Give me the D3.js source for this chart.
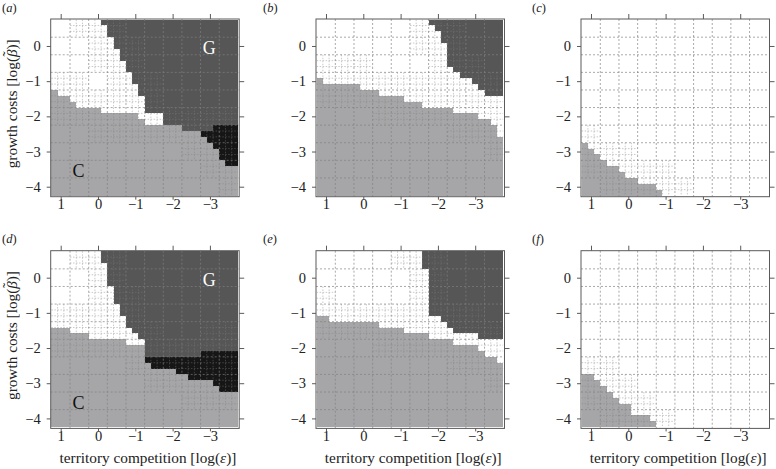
<!DOCTYPE html>
<html>
<head>
<meta charset="utf-8">
<script src="https://cdn.jsdelivr.net/npm/d3@7"></script>
<style>
  html, body { margin: 0; padding: 0; background: #fff; }
  svg { display: block; }
</style>
</head>
<body>
<div id="chart"></div>
<script>
// axis ticks
const xTicks = [1, 0, -1, -2, -3];
const yTicks = [0, -1, -2, -3, -4];

// coarse (0.5) grid lines, drawn dotted
const coarseX = [0.75, 0.25, -0.25, -0.75, -1.25, -1.75, -2.25, -2.75, -3.25];
const coarseY = [0.25, -0.25, -0.75, -1.25, -1.75, -2.25, -2.75, -3.25, -3.75];

// fine grid: 30 columns from log(eps)=1.25 down to -3.75, 30 rows from 0.75 down to -4.25 (step 1/6)
// per column: first row below G, first row of the black region, first row of C
const gBottomA  = [0,0,0,0,0,0,0,0,1,3,5,7,9,11,13,16,16,16,18,18,18,19,19,19,19,19,18,18,18,18];
const blackTopA = [12,13,13,14,15,15,15,15,16,16,16,16,16,16,17,18,18,18,18,18,18,19,19,19,19,19,18,18,18,18];
const greyTopA  = [12,13,13,14,15,15,15,15,16,16,16,16,16,16,17,18,18,18,18,18,18,19,19,19,20,21,22,24,25,25];

const gBottomB  = [0,0,0,0,0,0,0,0,0,0,0,0,0,0,0,0,0,0,1,2,4,8,9,10,10,11,12,13,13,13];
const greyTopB  = [10,11,11,11,11,11,11,12,12,12,13,13,13,13,14,14,14,15,15,15,15,15,16,16,16,16,17,17,18,20];

const greyTopC  = [21,22,23,24,25,25,26,27,27,28,28,28,29,30,30,30,30,30,30,30,30,30,30,30,30,30,30,30,30,30];

const gBottomD  = [0,0,0,0,0,0,0,0,2,6,9,11,13,14,15,18,18,18,18,18,18,18,18,18,17,17,17,17,17,17];
const blackTopD = [13,13,13,14,14,14,15,15,15,15,15,15,16,16,16,18,18,18,18,18,18,18,18,18,17,17,17,17,17,17];
const greyTopD  = [13,13,13,14,14,14,15,15,15,15,15,15,16,16,16,19,20,20,20,20,21,21,22,22,22,22,23,24,24,24];

const gBottomE  = [0,0,0,0,0,0,0,0,0,0,0,0,0,0,0,0,0,3,11,11,12,13,14,14,14,14,15,15,15,15];
const greyTopE  = [11,11,12,12,12,12,12,12,12,12,13,13,13,13,14,14,14,14,15,15,15,15,16,16,16,16,17,18,18,19];

const greyTopF  = [21,21,22,23,24,25,26,26,28,28,28,29,30,30,30,30,30,30,30,30,30,30,30,30,30,30,30,30,30,30];

const panels = [
  { id: "a", col: 0, row: 0, gBottom: gBottomA, blackTop: blackTopA, greyTop: greyTopA, letters: true },
  { id: "b", col: 1, row: 0, gBottom: gBottomB, blackTop: null, greyTop: greyTopB },
  { id: "c", col: 2, row: 0, gBottom: null, blackTop: null, greyTop: greyTopC },
  { id: "d", col: 0, row: 1, gBottom: gBottomD, blackTop: blackTopD, greyTop: greyTopD, letters: true },
  { id: "e", col: 1, row: 1, gBottom: gBottomE, blackTop: null, greyTop: greyTopE },
  { id: "f", col: 2, row: 1, gBottom: null, blackTop: null, greyTop: greyTopF }
];

const nFine = 30, step = 1 / 6, xStart = 1.25, yStart = 0.75;
const colors = { G: "#565656", W: "#ffffff", K: "#161616", C: "#a6a6a8" };

const width = 776, height = 469;
const panelW = 188.5, panelH = 177.7;
const colLeft = [50.7, 316, 581];
const rowTop = [19, 250.7];
const labelLeft = [2, 263, 532];
const serif = "Liberation Serif, DejaVu Serif, serif";

const svg = d3.select("#chart")
  .append("svg")
  .attr("width", width)
  .attr("height", height)
  .style("font-family", serif);

function stateAt(p, i, j) {
  const g = p.gBottom ? p.gBottom[i] : 0;
  const k = p.blackTop ? p.blackTop[i] : p.greyTop[i];
  const c = p.greyTop[i];
  if (j < g) return "G";
  if (j < k) return "W";
  if (j < c) return "K";
  return "C";
}

panels.forEach(p => {
  const left = colLeft[p.col], top = rowTop[p.row];
  const g = svg.append("g").attr("transform", `translate(${left},${top})`);

  const x = d3.scaleLinear().domain([1.268, -3.785]).range([0, panelW]);
  const y = d3.scaleLinear().domain([0.767, -4.284]).range([0, panelH]);

  g.append("rect")
    .attr("width", panelW).attr("height", panelH)
    .attr("fill", "#fff");

  // one rect per column and region
  const segs = [];
  for (let i = 0; i < nFine; i++) {
    const gb = p.gBottom ? p.gBottom[i] : 0;
    const kt = p.blackTop ? p.blackTop[i] : p.greyTop[i];
    const ct = p.greyTop[i];
    const bounds = [0, gb, kt, ct, nFine];
    ["G", "W", "K", "C"].forEach((s, k) => {
      if (bounds[k + 1] > bounds[k] && s !== "W") {
        segs.push({ i: i, j0: bounds[k], j1: bounds[k + 1], s: s });
      }
    });
  }

  g.append("g").selectAll("rect")
    .data(segs)
    .enter().append("rect")
    .attr("x", d => x(xStart - d.i * step))
    .attr("width", d => x(xStart - (d.i + 1) * step) - x(xStart - d.i * step))
    .attr("y", d => y(yStart - d.j0 * step))
    .attr("height", d => y(yStart - d.j1 * step) - y(yStart - d.j0 * step))
    .attr("fill", d => colors[d.s])
    .attr("shape-rendering", "crispEdges");

  // refined coarse cells: those near a region boundary get the fine dotted grid
  const refined = [];
  for (let bi = 0; bi < 10; bi++) {
    for (let bj = 0; bj < 10; bj++) {
      const seen = new Set();
      [[0, 0], [1, 0], [-1, 0], [0, 1], [0, -1]].forEach(([di, dj]) => {
        const ci = bi + di, cj = bj + dj;
        if (ci < 0 || cj < 0 || ci > 9 || cj > 9) return;
        for (let a = 0; a < 3; a++)
          for (let b = 0; b < 3; b++)
            seen.add(stateAt(p, ci * 3 + a, cj * 3 + b));
      });
      if (seen.size > 1) refined.push({ bi: bi, bj: bj });
    }
  }

  const fineLines = [];
  refined.forEach(r => {
    [1, 2].forEach(k => {
      fineLines.push({
        x1: xStart - (r.bi * 3 + k) * step, x2: xStart - (r.bi * 3 + k) * step,
        y1: yStart - r.bj * 3 * step, y2: yStart - (r.bj * 3 + 3) * step
      });
      fineLines.push({
        x1: xStart - r.bi * 3 * step, x2: xStart - (r.bi * 3 + 3) * step,
        y1: yStart - (r.bj * 3 + k) * step, y2: yStart - (r.bj * 3 + k) * step
      });
    });
  });

  g.append("g").selectAll("line")
    .data(fineLines)
    .enter().append("line")
    .attr("x1", d => x(d.x1)).attr("x2", d => x(d.x2))
    .attr("y1", d => y(d.y1)).attr("y2", d => y(d.y2))
    .attr("stroke", "#808080")
    .attr("stroke-opacity", 0.6)
    .attr("stroke-width", 0.7)
    .attr("stroke-dasharray", "1.5 1.5");

  // coarse dotted grid
  g.append("g").selectAll("line")
    .data(coarseX)
    .enter().append("line")
    .attr("x1", d => x(d)).attr("x2", d => x(d))
    .attr("y1", 0).attr("y2", panelH)
    .attr("stroke", "#808080")
    .attr("stroke-opacity", 0.75)
    .attr("stroke-width", 0.9)
    .attr("stroke-dasharray", "2 2");

  g.append("g").selectAll("line")
    .data(coarseY)
    .enter().append("line")
    .attr("x1", 0).attr("x2", panelW)
    .attr("y1", d => y(d)).attr("y2", d => y(d))
    .attr("stroke", "#808080")
    .attr("stroke-opacity", 0.75)
    .attr("stroke-width", 0.9)
    .attr("stroke-dasharray", "2 2");

  // region letters
  if (p.letters) {
    g.append("text")
      .attr("x", x(-2.98)).attr("y", y(-0.05) + 6.5)
      .attr("text-anchor", "middle")
      .attr("font-size", 18)
      .attr("fill", "#fff")
      .text("G");
    g.append("text")
      .attr("x", x(0.52)).attr("y", y(-3.55) + 6.5)
      .attr("text-anchor", "middle")
      .attr("font-size", 18)
      .attr("fill", "#111")
      .text("C");
  }

  // frame
  g.append("rect")
    .attr("width", panelW).attr("height", panelH)
    .attr("fill", "none")
    .attr("stroke", "#5a5a5a")
    .attr("stroke-width", 1);

  const fmt = d3.format("d");
  const styleAxis = sel => {
    sel.select(".domain").remove();
    sel.selectAll(".tick line").attr("stroke", "#5a5a5a");
    sel.attr("font-family", serif).attr("font-size", 14.5);
    sel.selectAll("text").attr("fill", "#222");
  };

  g.append("g")
    .attr("transform", `translate(0,${panelH})`)
    .call(d3.axisBottom(x).tickValues(xTicks).tickSize(3).tickFormat(fmt))
    .call(styleAxis)
    .selectAll("text").attr("dy", null).attr("y", 12.5);

  g.append("g")
    .call(d3.axisTop(x).tickValues(xTicks).tickSize(5).tickFormat(""))
    .call(styleAxis);

  g.append("g")
    .call(d3.axisLeft(y).tickValues(yTicks).tickSize(4).tickPadding(6).tickFormat(fmt))
    .call(styleAxis);

  g.append("g")
    .attr("transform", `translate(${panelW},0)`)
    .call(d3.axisRight(y).tickValues(yTicks).tickSize(5).tickFormat(""))
    .call(styleAxis);

  // panel label
  const lab = svg.append("text")
    .attr("x", labelLeft[p.col])
    .attr("y", top - 7.5)
    .attr("font-size", 12.5)
    .attr("fill", "#222");
  lab.append("tspan").text("(");
  lab.append("tspan").attr("font-style", "italic").text(p.id);
  lab.append("tspan").text(")");

  // axis titles
  if (p.col === 0) {
    const t = svg.append("text")
      .attr("transform", `translate(17,${top + panelH / 2 - 4}) rotate(-90)`)
      .attr("text-anchor", "middle")
      .attr("font-size", 15.3)
      .attr("fill", "#222");
    t.append("tspan").text("growth costs [log(");
    t.append("tspan").attr("font-style", "italic").text("\u03B2");
    t.append("tspan").attr("dx", -7).attr("dy", -4).text("\u02DC");
    t.append("tspan").attr("dx", 1.7).attr("dy", 4).text(")]");
  }
  if (p.row === 1) {
    const t = svg.append("text")
      .attr("x", left + panelW / 2 + 3)
      .attr("y", 463)
      .attr("text-anchor", "middle")
      .attr("font-size", 15.3)
      .attr("fill", "#222");
    t.append("tspan").text("territory competition [log(");
    t.append("tspan").attr("font-style", "italic").text("\u03B5");
    t.append("tspan").text(")]");
  }
});
</script>
</body>
</html>
